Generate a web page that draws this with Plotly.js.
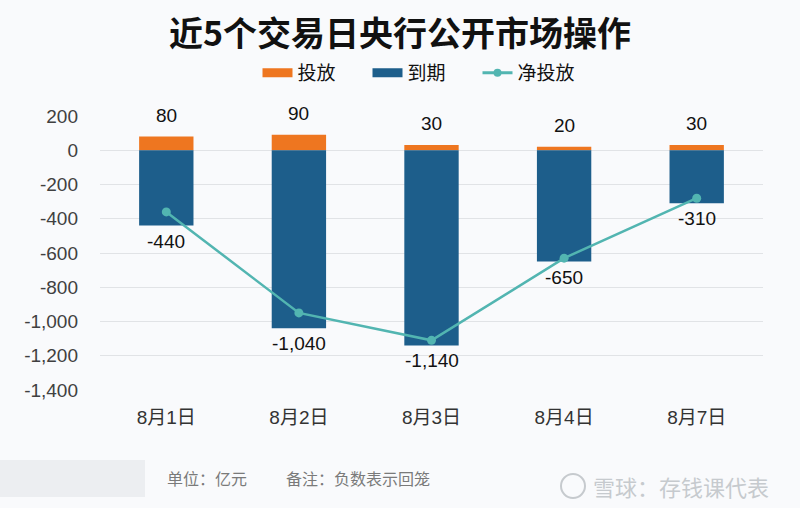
<!DOCTYPE html>
<html>
<head>
<meta charset="utf-8">
<script src="https://cdn.plot.ly/plotly-3.0.1.min.js"></script>
<style>html,body{margin:0;padding:0;background:#f9fafc;}#chart{width:800px;height:508px;}</style>
</head>
<body>
<div id="chart"></div>
<script>
const dates = ['8月1日', '8月2日', '8月3日', '8月4日', '8月7日'];
const injection = [80, 90, 30, 20, 30];
const maturity = [-440, -1040, -1140, -650, -310];
const netInjection = [-360, -950, -1110, -630, -280];
const yTicks = [200, 0, -200, -400, -600, -800, -1000, -1200, -1400];
const seriesNames = ['投放', '到期', '净投放'];
const seriesColors = ['#EE7620', '#1D5E8B', '#52B5B1'];

const fmt = v => (v < 0 ? '-' : '') + Math.abs(v).toLocaleString('en-US');
const FONT = '"Liberation Sans", Arial, "Noto Sans CJK SC", sans-serif';
const CJK = '"Noto Sans CJK SC", sans-serif';

const traces = [
  {type: 'bar', name: seriesNames[0], x: dates, y: injection, marker: {color: seriesColors[0]}, hoverinfo: 'skip', showlegend: false},
  {type: 'bar', name: seriesNames[1], x: dates, y: maturity, marker: {color: seriesColors[1]}, hoverinfo: 'skip', showlegend: false},
  {type: 'scatter', mode: 'lines+markers', name: seriesNames[2], x: dates, y: netInjection,
   line: {color: seriesColors[2], width: 2.5}, marker: {color: seriesColors[2], size: 9}, hoverinfo: 'skip', showlegend: false},
  // legend entries (wide swatches as in the reference)
  {type: 'scatter', mode: 'lines', name: seriesNames[0], x: [null], y: [null], line: {color: seriesColors[0], width: 9}, showlegend: true},
  {type: 'scatter', mode: 'lines', name: seriesNames[1], x: [null], y: [null], line: {color: seriesColors[1], width: 9}, showlegend: true},
  {type: 'scatter', mode: 'lines+markers', name: seriesNames[2], x: [null], y: [null], line: {color: seriesColors[2], width: 3},
   marker: {color: seriesColors[2], size: 8}, showlegend: true}
];

const annotations = [];
dates.forEach((d, i) => {
  annotations.push({x: d, y: injection[i], xref: 'x', yref: 'y', text: fmt(injection[i]), showarrow: false,
    yanchor: 'bottom', yshift: 9, font: {family: FONT, size: 19, color: '#111'}});
  annotations.push({x: d, y: maturity[i], xref: 'x', yref: 'y', text: fmt(maturity[i]), showarrow: false,
    yanchor: 'top', yshift: -3, font: {family: FONT, size: 19, color: '#111'}});
});
annotations.push({xref: 'paper', yref: 'paper', x: (165 - 100) / 663, y: (390 - 478) / 274, xanchor: 'left', yanchor: 'middle',
  text: '单位：亿元', showarrow: false, font: {family: CJK, size: 16, color: '#7a7a7a'}});
annotations.push({xref: 'paper', yref: 'paper', x: (284 - 100) / 663, y: (390 - 478) / 274, xanchor: 'left', yanchor: 'middle',
  text: '备注：负数表示回笼', showarrow: false, font: {family: CJK, size: 16, color: '#7a7a7a'}});
annotations.push({xref: 'paper', yref: 'paper', x: (591 - 100) / 663, y: (390 - 486) / 274, xanchor: 'left', yanchor: 'middle',
  text: '雪球：存钱课代表', showarrow: false, font: {family: CJK, size: 22, color: '#c6cace'}});

const layout = {
  width: 800, height: 508,
  paper_bgcolor: '#f9fafc', plot_bgcolor: '#f9fafc',
  margin: {l: 100, r: 37, t: 116, b: 118},
  barmode: 'relative', bargap: 0.59,
  title: {text: '近5个交易日央行公开市场操作', x: 0.5, xanchor: 'center', y: 1 - 34 / 508, yanchor: 'middle',
    font: {family: CJK, size: 34, color: '#111', weight: 'bold'}},
  legend: {orientation: 'h', x: 0.5 - 9 / 663, xanchor: 'center', y: 1 + 43 / 274, yanchor: 'middle',
    font: {family: CJK, size: 19, color: '#111'}, bgcolor: 'rgba(0,0,0,0)', entrywidth: 65, entrywidthmode: 'pixels'},
  xaxis: {type: 'category', range: [-0.5, 4.5], showgrid: false, zeroline: false, showline: false, ticks: '',
    tickfont: {family: FONT, size: 19, color: '#333'}, ticklabelstandoff: 14, fixedrange: true},
  yaxis: {range: [-1400, 200], tickvals: yTicks, ticktext: yTicks.map(fmt), showgrid: true, gridcolor: '#e1e3e6', gridwidth: 1,
    zeroline: false, showline: false, ticks: '', tickfont: {family: FONT, size: 19, color: '#404040'}, ticklabelstandoff: 21, fixedrange: true},
  shapes: [
    {type: 'rect', xref: 'paper', yref: 'paper', x0: -100 / 663, x1: 45 / 663, y0: (390 - 497) / 274, y1: (390 - 460) / 274,
     fillcolor: '#eceef1', line: {width: 0}, layer: 'below'},
    {type: 'circle', xref: 'paper', yref: 'paper', x0: (561 - 100) / 663, x1: (585 - 100) / 663, y0: (390 - 498) / 274, y1: (390 - 474) / 274,
     fillcolor: 'rgba(0,0,0,0)', line: {color: '#c6cace', width: 2}}
  ],
  annotations: annotations,
  showlegend: true
};

Plotly.newPlot('chart', traces, layout, {displayModeBar: false, staticPlot: true});
</script>
</body>
</html>
